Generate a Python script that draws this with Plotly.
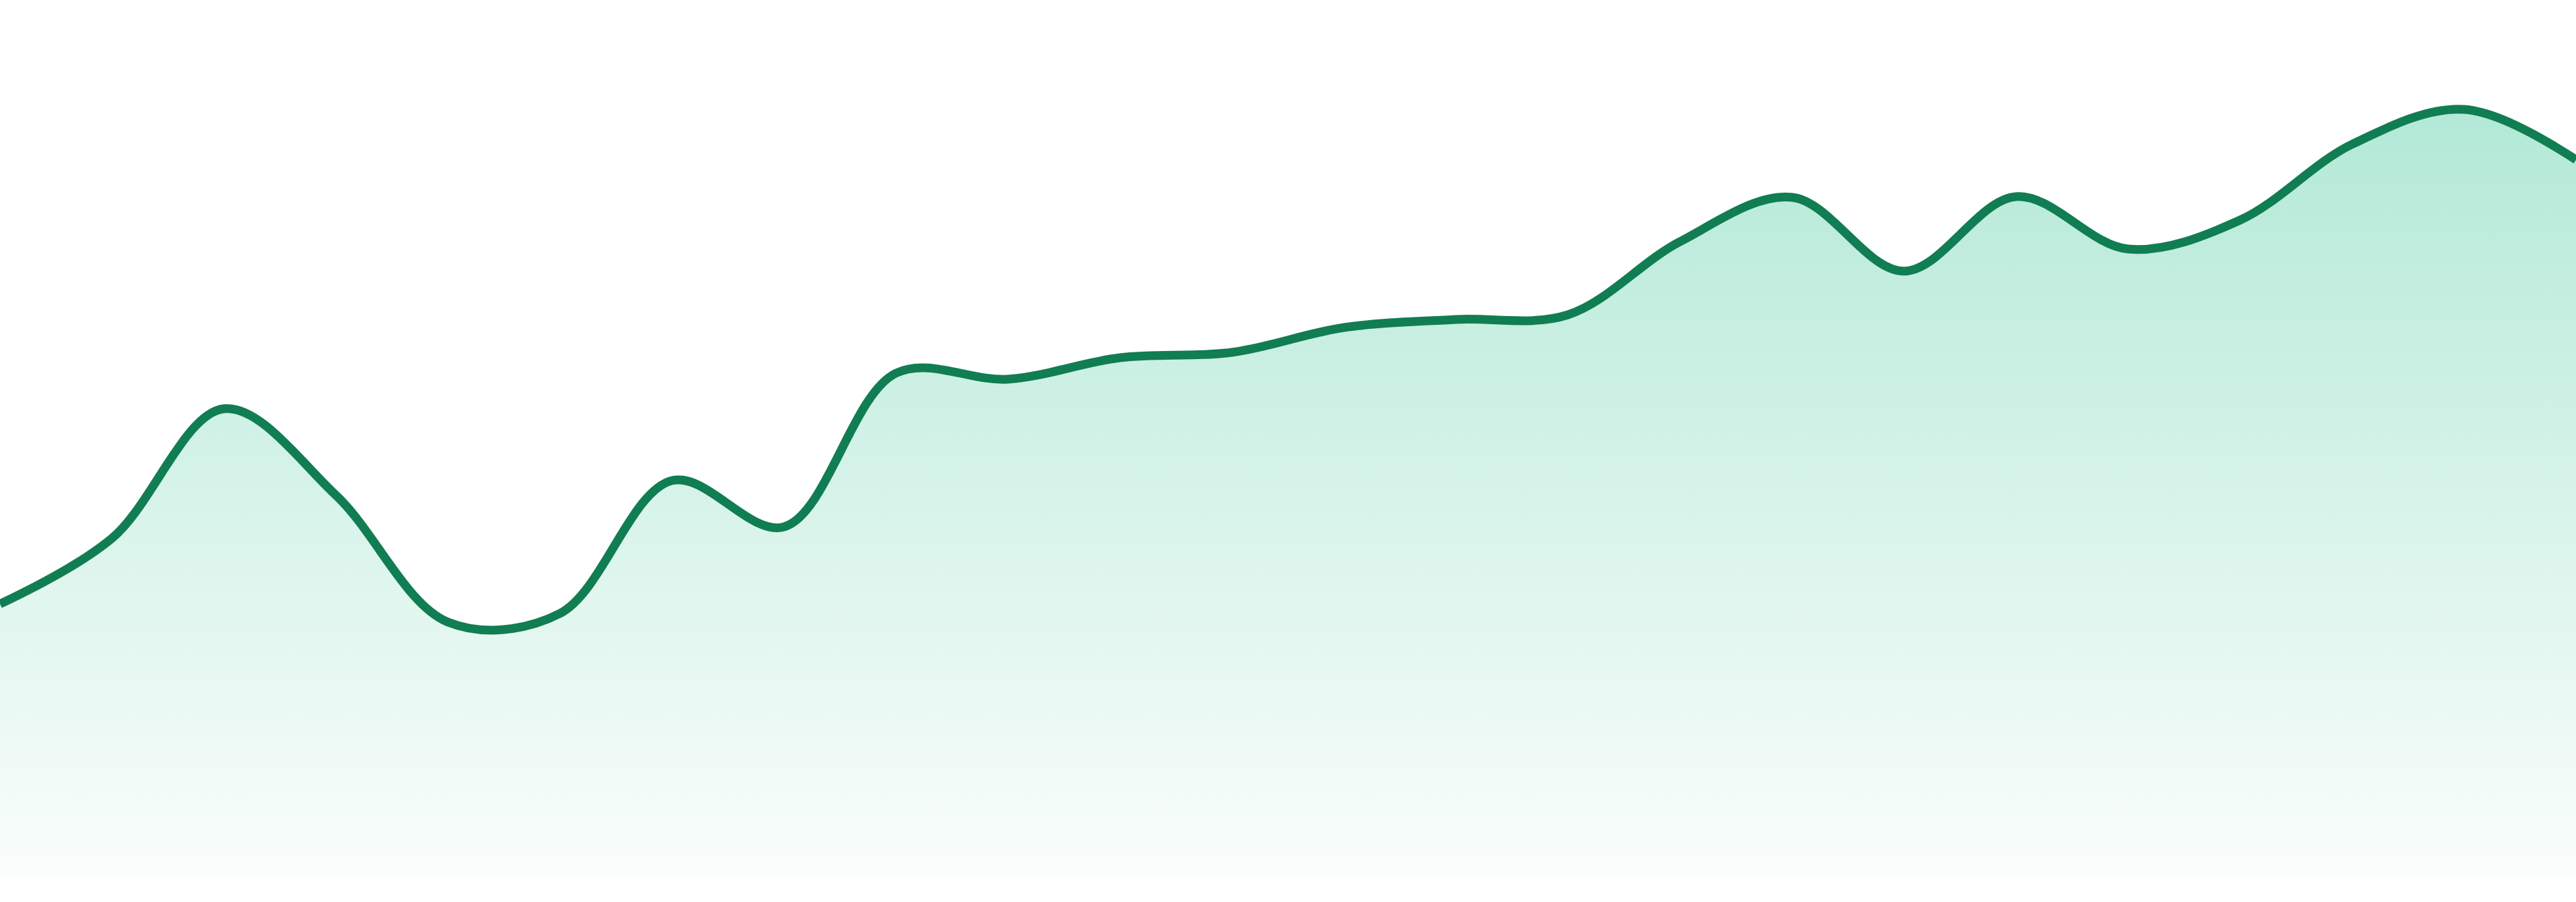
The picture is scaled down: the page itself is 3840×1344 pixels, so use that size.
import plotly.graph_objects as go

# one value per step
steps = list(range(24))
values = [40.5, 50.3, 69.6, 56.7, 37.8, 39.1, 58.9, 52.0,
          74.9, 74.0, 77.2, 78.0, 81.7, 82.9, 83.6, 94.5,
          101.1, 90.1, 101.2, 93.4, 97.7, 109.0, 114.2, 106.7]

line_color = '#117d52'
fill_low = 'rgba(16, 185, 129, 0.02)'
fill_high = 'rgba(16, 185, 129, 0.32)'

fig = go.Figure(
    go.Scatter(
        x=steps,
        y=values,
        mode='lines',
        line=dict(color=line_color, width=13, shape='spline', smoothing=1),
        fill='tozeroy',
        fillgradient=dict(
            type='vertical',
            colorscale=[[0, fill_low], [1, fill_high]],
            start=0,
            stop=max(values),
        ),
        hoverinfo='skip',
    )
)

fig.update_layout(
    width=3840,
    height=1344,
    margin=dict(l=0, r=0, t=0, b=39),
    paper_bgcolor='white',
    plot_bgcolor='white',
    showlegend=False,
    xaxis=dict(range=[0, 23], visible=False, fixedrange=True),
    yaxis=dict(range=[0, 130.5], visible=False, fixedrange=True),
)

# the page's default body margin would shift the figure by 8px
fig.write_html(
    "out.html",
    config={'displayModeBar': False},
    post_script="document.body.style.margin = '0';",
)
